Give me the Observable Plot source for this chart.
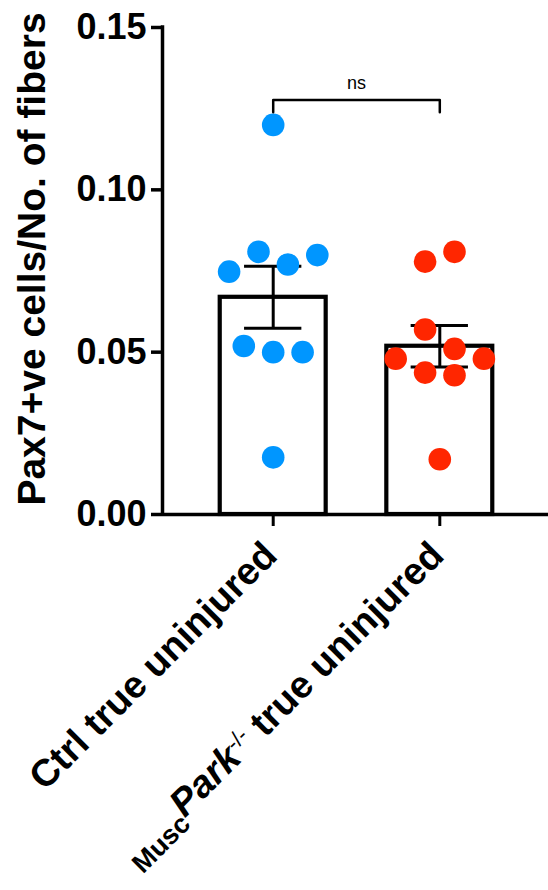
<!DOCTYPE html>
<html>
<head>
<meta charset="utf-8">
<script src="https://cdn.jsdelivr.net/npm/d3@7"></script>
<script src="https://cdn.jsdelivr.net/npm/@observablehq/plot@0.6"></script>
<style>
  html, body { margin: 0; padding: 0; background: #fff; overflow: hidden; }
  #chart svg { display: block; }
</style>
</head>
<body>
<div id="chart"></div>
<script>
// ---------------- data ----------------
const categories = ["Ctrl true uninjured", "MuscPark-/- true uninjured"];
const ctrlValues = [0.1200, 0.0748, 0.0809, 0.0770, 0.0799, 0.0519, 0.0500, 0.0500, 0.0176];
const parkValues = [0.0779, 0.0809, 0.0570, 0.0510, 0.0480, 0.0437, 0.0429, 0.0480, 0.0170];
const groupColors = ["#0096FF", "#FF2600"];
const yTicks = [0, 0.05, 0.10, 0.15];
const yTitle = "Pax7+ve cells/No. of fibers";
const comparisonLabel = "ns";
const comparisonGroups = [0, 1];
const comparisonLevels = [0.1239, 0.1277]; // bracket leg end, bracket bar

// ---------------- layout ----------------
const W = 548, H = 890;
const M = {left: 162, right: 0, top: 27, bottom: 376};
const xDomain = [-0.6645, 1.6525];
const yDomain = [0, 0.15];
const dotR = 11.3;
const barHalf = 0.318;
const capHalf = 0.172;
const colSpacingPx = 29.4;
const FONT = "'Liberation Sans', Arial, Helvetica, sans-serif";

const xPx = (W - M.left - M.right) / (xDomain[1] - xDomain[0]);
const yPx = (H - M.top - M.bottom) / (yDomain[1] - yDomain[0]);
const colStep = colSpacingPx / xPx;      // column spacing in x units
const binH = 2 * dotR / yPx;             // dot diameter in y units

// GraphPad-like column scatter: bin values by dot height, spread each bin symmetrically
function columnOffsets(values) {
  const order = d3.range(values.length).sort((a, b) => values[a] - values[b] || a - b);
  const offs = new Array(values.length).fill(0);
  let bin = [];
  const flush = () => {
    const b = bin.slice().sort((a, c) => a - c);
    b.forEach((idx, j) => { offs[idx] = j - (b.length - 1) / 2; });
  };
  for (const i of order) {
    if (bin.length && values[i] - values[bin[0]] > binH) { flush(); bin = []; }
    bin.push(i);
  }
  if (bin.length) flush();
  return offs;
}

const series = [ctrlValues, parkValues];
const groups = series.map((vals, i) => {
  const mean = d3.mean(vals);
  const sem = d3.deviation(vals) / Math.sqrt(vals.length);
  return {i, name: categories[i], mean, lo: mean - sem, hi: mean + sem, color: groupColors[i]};
});
const points = series.flatMap((vals, g) => {
  const offs = columnOffsets(vals);
  return vals.map((v, k) => ({g, value: v, x: g + offs[k] * colStep, color: groupColors[g]}));
});
const bracket = [
  {x: comparisonGroups[0], y: comparisonLevels[0]},
  {x: comparisonGroups[0], y: comparisonLevels[1]},
  {x: comparisonGroups[1], y: comparisonLevels[1]},
  {x: comparisonGroups[1], y: comparisonLevels[0]}
];

const chart = Plot.plot({
  width: W,
  height: H,
  marginLeft: M.left,
  marginRight: M.right,
  marginTop: M.top,
  marginBottom: M.bottom,
  x: {type: "linear", domain: xDomain},
  y: {domain: yDomain},
  style: {fontFamily: FONT, background: "white", color: "black", overflow: "visible"},
  marks: [
    Plot.rectY(groups, {x1: d => d.i - barHalf, x2: d => d.i + barHalf, y1: 0, y2: "mean",
      fill: "white", stroke: "black", strokeWidth: 4.2}),
    Plot.ruleX(groups, {x: "i", y1: "lo", y2: "hi", stroke: "black", strokeWidth: 3}),
    Plot.ruleY(groups, {y: "hi", x1: d => d.i - capHalf, x2: d => d.i + capHalf, stroke: "black", strokeWidth: 3}),
    Plot.ruleY(groups, {y: "lo", x1: d => d.i - capHalf, x2: d => d.i + capHalf, stroke: "black", strokeWidth: 3}),
    Plot.dot(points, {x: "x", y: "value", r: dotR, fill: "color", stroke: null}),
    Plot.ruleY([yDomain[0]], {stroke: "black", strokeWidth: 3.5}),
    Plot.ruleX([xDomain[0]], {y1: yDomain[0], y2: yDomain[1], stroke: "black", strokeWidth: 3.5, strokeLinecap: "square"}),
    Plot.axisY({ticks: yTicks, tickSize: 11, tickPadding: 5, tickFormat: d3.format(".2f"),
      fontSize: 36, fontWeight: "bold", strokeWidth: 3.5, label: null, fill: "black", stroke: "black"}),
    Plot.axisX({ticks: categories.map((_, i) => i), tickSize: 12, tickFormat: () => "",
      strokeWidth: 3, label: null, stroke: "black"}),
    Plot.text(categories, {x: (d, i) => i, y: yDomain[0], text: d => d, dx: 6, dy: 43, rotate: -45,
      textAnchor: "end", lineAnchor: "bottom", fontSize: 38, fontWeight: "bold", fill: "black"}),
    Plot.line(bracket, {x: "x", y: "y", stroke: "black", strokeWidth: 2.5, curve: "linear"}),
    Plot.text([comparisonLabel], {x: d3.mean(comparisonGroups), y: comparisonLevels[1], text: d => d,
      dy: -11, lineAnchor: "bottom", fontSize: 18, fill: "black"}),
    Plot.text([yTitle], {frameAnchor: "left", text: d => d, dx: -118, dy: -12, rotate: -90,
      textAnchor: "middle", lineAnchor: "bottom", fontSize: 39, fontWeight: "bold", fill: "black"})
  ]
});

// rich text for the genotype label: subscript "Musc", italic "Park", superscript "-/-"
chart.querySelectorAll("text").forEach(t => {
  const m = t.textContent.match(/^(Musc)(Park)(-\/-)(.*)$/);
  if (!m) return;
  t.textContent = "";
  const ns = "http://www.w3.org/2000/svg";
  const add = (str, attrs) => {
    const s = document.createElementNS(ns, "tspan");
    for (const k in attrs) s.setAttribute(k, attrs[k]);
    s.textContent = str;
    t.appendChild(s);
  };
  add(m[1], {"font-size": 27, dy: 10});
  add(m[2], {"font-style": "italic", dy: -10});
  add(m[3], {"font-size": 22, "font-weight": "normal", dy: -12});
  add(m[4], {dy: 12});
});

document.getElementById("chart").appendChild(chart);
</script>
</body>
</html>
